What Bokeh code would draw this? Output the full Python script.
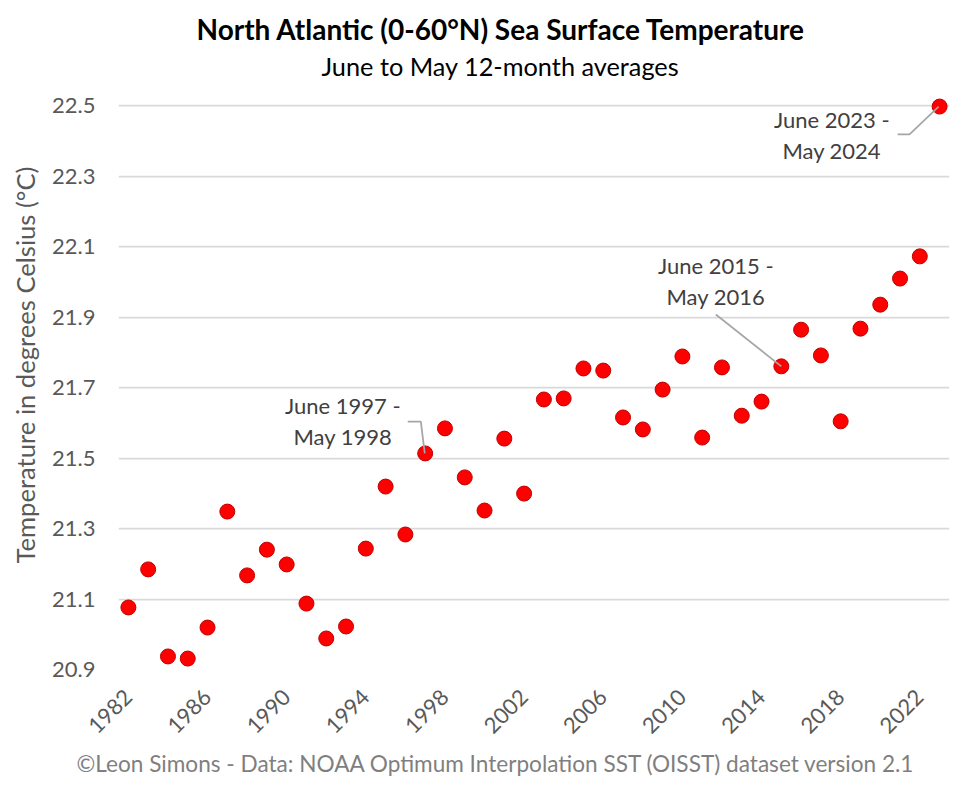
from bokeh.plotting import figure
from bokeh.models import ColumnDataSource, FixedTicker, Label, Range1d, Title
from bokeh.embed import file_html
from bokeh.resources import INLINE
import math

years = list(range(1982, 2024))
sst = [21.076, 21.184, 20.937, 20.931, 21.019, 21.348, 21.167, 21.240, 21.198, 21.087,
       20.988, 21.022, 21.243, 21.419, 21.283, 21.513, 21.584, 21.445, 21.351, 21.555,
       21.399, 21.666, 21.669, 21.754, 21.748, 21.615, 21.581, 21.694, 21.788, 21.558,
       21.757, 21.620, 21.660, 21.760, 21.864, 21.791, 21.604, 21.867, 21.935, 22.009,
       22.072, 22.497]
x_ticks = list(range(1982, 2023, 4))
y_ticks = [20.9, 21.1, 21.3, 21.5, 21.7, 21.9, 22.1, 22.3, 22.5]

title = "North Atlantic (0-60°N) Sea Surface Temperature"
subtitle = "June to May 12-month averages"
y_label = "Temperature in degrees Celsius (°C)"
footer = "©Leon Simons - Data: NOAA Optimum Interpolation SST (OISST) dataset version 2.1"

notes = [
    ("June 1997 -", 1992.84, 21.649),
    ("May 1998", 1992.84, 21.561),
    ("June 2015 -", 2011.69, 22.046),
    ("May 2016", 2011.69, 21.958),
    ("June 2023 -", 2017.55, 22.460),
    ("May 2024", 2017.55, 22.372),
]
leaders = [
    ([1996.12, 1996.78, 1996.98], [21.603, 21.603, 21.513]),
    ([2011.69, 2015.0], [21.907, 21.760]),
    ([2020.88, 2021.48, 2022.95], [22.418, 22.418, 22.497]),
]

GRID = "#d9d9d9"
TICK = "#595959"
NOTE = "#404040"
FONT = "Lato"

p = figure(width=960, height=789, output_backend="svg", toolbar_location=None,
           x_range=Range1d(1981.5, 2023.5), y_range=Range1d(20.9, 22.5 + 15 * 1.6 / 564),
           min_border_left=118, min_border_right=11, min_border_top=90, min_border_bottom=120,
           outline_line_color=None, background_fill_color="white", border_fill_color="white")

p.xgrid.visible = False
p.ygrid.ticker = FixedTicker(ticks=y_ticks)
p.ygrid.grid_line_color = GRID
p.ygrid.grid_line_width = 1.75

p.xaxis.ticker = FixedTicker(ticks=x_ticks)
p.yaxis.ticker = FixedTicker(ticks=y_ticks)
p.xaxis.major_label_orientation = math.pi / 4
p.xaxis.axis_line_color = None
p.yaxis.axis_line_color = None
for ax in (p.xaxis, p.yaxis):
    ax.major_tick_line_color = None
    ax.minor_tick_line_color = None
    ax.major_label_text_color = TICK
    ax.major_label_text_font = FONT
    ax.major_label_text_font_size = "22px"
p.xaxis.major_label_standoff = 18
p.yaxis.major_label_standoff = 17

src = ColumnDataSource(dict(year=years, sst=sst))
p.scatter("year", "sst", source=src, size=15, fill_color="#ff0000", line_color="#c00000", line_width=1)

for lx, ly in leaders:
    p.line(lx, ly, line_color="#a6a6a6", line_width=1.75)

for text, nx, ny in notes:
    p.add_layout(Label(x=nx, y=ny, text=text, text_align="center", text_baseline="middle",
                       text_font=FONT, text_font_size="22px", text_color=NOTE))

def page_title(text, place, offset, standoff, size, color, style="normal", valign="bottom"):
    p.add_layout(Title(text=text, align="left", offset=offset, standoff=standoff, vertical_align=valign,
                       text_font=FONT, text_font_size=size, text_color=color,
                       text_font_style=style), place)

page_title(subtitle, "above", 321 - 118, 20, "25.3px", "#000000")
page_title(title, "above", 196 - 118, -14, "28px", "#000000", "bold")
page_title(footer, "below", 76 - 118, 9, "22.6px", "#7f7f7f")
page_title(y_label, "left", 669 - 563, 16, "25.6px", TICK, valign="top")

open("out.html", "w").write(file_html(p, INLINE))
